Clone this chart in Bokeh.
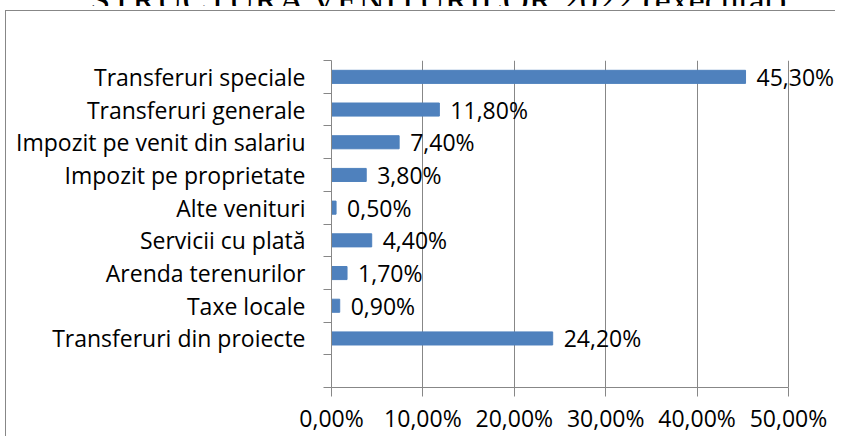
from bokeh.plotting import figure
from bokeh.layouts import column
from bokeh.models import ColumnDataSource, FixedTicker, LabelSet, Range1d, Div
from bokeh.core.properties import value
from bokeh.embed import file_html
from bokeh.resources import INLINE

# ---- data ----
title_text = "STRUCTURA VENITURILOR 2022 (executat)"
categories = ["Transferuri speciale", "Transferuri generale", "Impozit pe venit din salariu",
              "Impozit pe proprietate", "Alte venituri", "Servicii cu plată",
              "Arenda terenurilor", "Taxe locale", "Transferuri din proiecte"]
values = [45.3, 11.8, 7.4, 3.8, 0.5, 4.4, 1.7, 0.9, 24.2]
x_ticks = [0, 10, 20, 30, 40, 50]
x_tick_labels = ["0,00%", "10,00%", "20,00%", "30,00%", "40,00%", "50,00%"]

n_slots = len(categories) + 1  # one empty slot at the bottom
ypos = [n_slots - i for i in range(len(categories))]
labels = [("%.2f" % v).replace(".", ",") + "%" for v in values]
src = ColumnDataSource(dict(y=ypos, v=values, lab=labels))

FONT = "Open Sans"
FS = "23px"
GRAY = "#878787"
W, H = 835, 436
TITLE_H = 6

# ---- title strip (the original title is cut off by the top edge) ----
title = Div(text=('<div style="font-family:\'Liberation Serif\';font-size:36px;'
                  'line-height:36px;white-space:nowrap;text-align:center;width:%dpx;'
                  'margin-top:-30px;position:relative;left:21px;color:black">%s</div>')
                 % (W, title_text),
            width=W, height=TITLE_H, margin=0,
            styles={"overflow": "hidden"})

# ---- main chart ----
MH = H - TITLE_H
frame_left, frame_top, frame_bottom = 331, 60, 390   # picture coordinates
px_per_unit = 9.14
x_end = (W - frame_left) / px_per_unit

p = figure(width=W, height=MH, output_backend="svg", toolbar_location=None,
           x_range=Range1d(0, x_end), y_range=Range1d(0.5, n_slots + 0.5),
           min_border_left=frame_left, min_border_right=0,
           min_border_top=frame_top - TITLE_H, min_border_bottom=H - frame_bottom,
           outline_line_color=None, margin=0,
           border_fill_color=None, background_fill_color=None)
# chart-area border: only its top and left edges fall inside the picture
p.styles = {
    "background-image": "linear-gradient(%s,%s), linear-gradient(%s,%s)" % (GRAY, GRAY, GRAY, GRAY),
    "background-size": "100% 1px, 1px 100%",
    "background-position": "5px %dpx, 5px %dpx" % (10 - TITLE_H, 10 - TITLE_H),
    "background-repeat": "no-repeat",
}

p.hbar(y="y", right="v", left=0, height=0.4, source=src,
       fill_color="#4F81BD", line_color="#4F81BD")

# x axis
p.xaxis.ticker = FixedTicker(ticks=x_ticks)
p.xaxis.bounds = (x_ticks[0], x_ticks[-1])
p.xaxis.major_label_overrides = {t: l for t, l in zip(x_ticks, x_tick_labels)}
p.xaxis.axis_line_color = GRAY
p.xaxis.major_tick_line_color = GRAY
p.xaxis.major_tick_in = 0
p.xaxis.major_tick_out = 9
p.xaxis.minor_tick_line_color = None
p.xaxis.major_label_text_font = FONT
p.xaxis.major_label_text_font_size = FS
p.xaxis.major_label_text_color = "black"
p.xaxis.major_label_standoff = 5

# y axis: labels at slot centres, tick marks at slot boundaries
y_centers = list(range(1, n_slots + 1))
y_bounds = [k + 0.5 for k in range(0, n_slots + 1)]
p.yaxis.ticker = FixedTicker(ticks=y_centers, minor_ticks=y_bounds)
overrides = {y: "" for y in y_centers}
for yy, c in zip(ypos, categories):
    overrides[yy] = c
p.yaxis.major_label_overrides = overrides
p.yaxis.axis_line_color = GRAY
p.yaxis.major_tick_line_color = None
p.yaxis.minor_tick_line_color = GRAY
p.yaxis.minor_tick_in = 0
p.yaxis.minor_tick_out = 8
p.yaxis.major_label_text_font = FONT
p.yaxis.major_label_text_font_size = FS
p.yaxis.major_label_text_color = "black"
p.yaxis.major_label_standoff = 18

p.ygrid.grid_line_color = None
p.xgrid.grid_line_color = GRAY
p.xgrid.grid_line_width = 1

p.add_layout(LabelSet(x="v", y="y", text="lab", source=src, x_offset=11,
                      text_baseline="middle", text_font=value(FONT),
                      text_font_size=value(FS), text_color="black"))

layout = column(title, p, spacing=0)
open("out.html", "w").write(file_html(layout, INLINE))
